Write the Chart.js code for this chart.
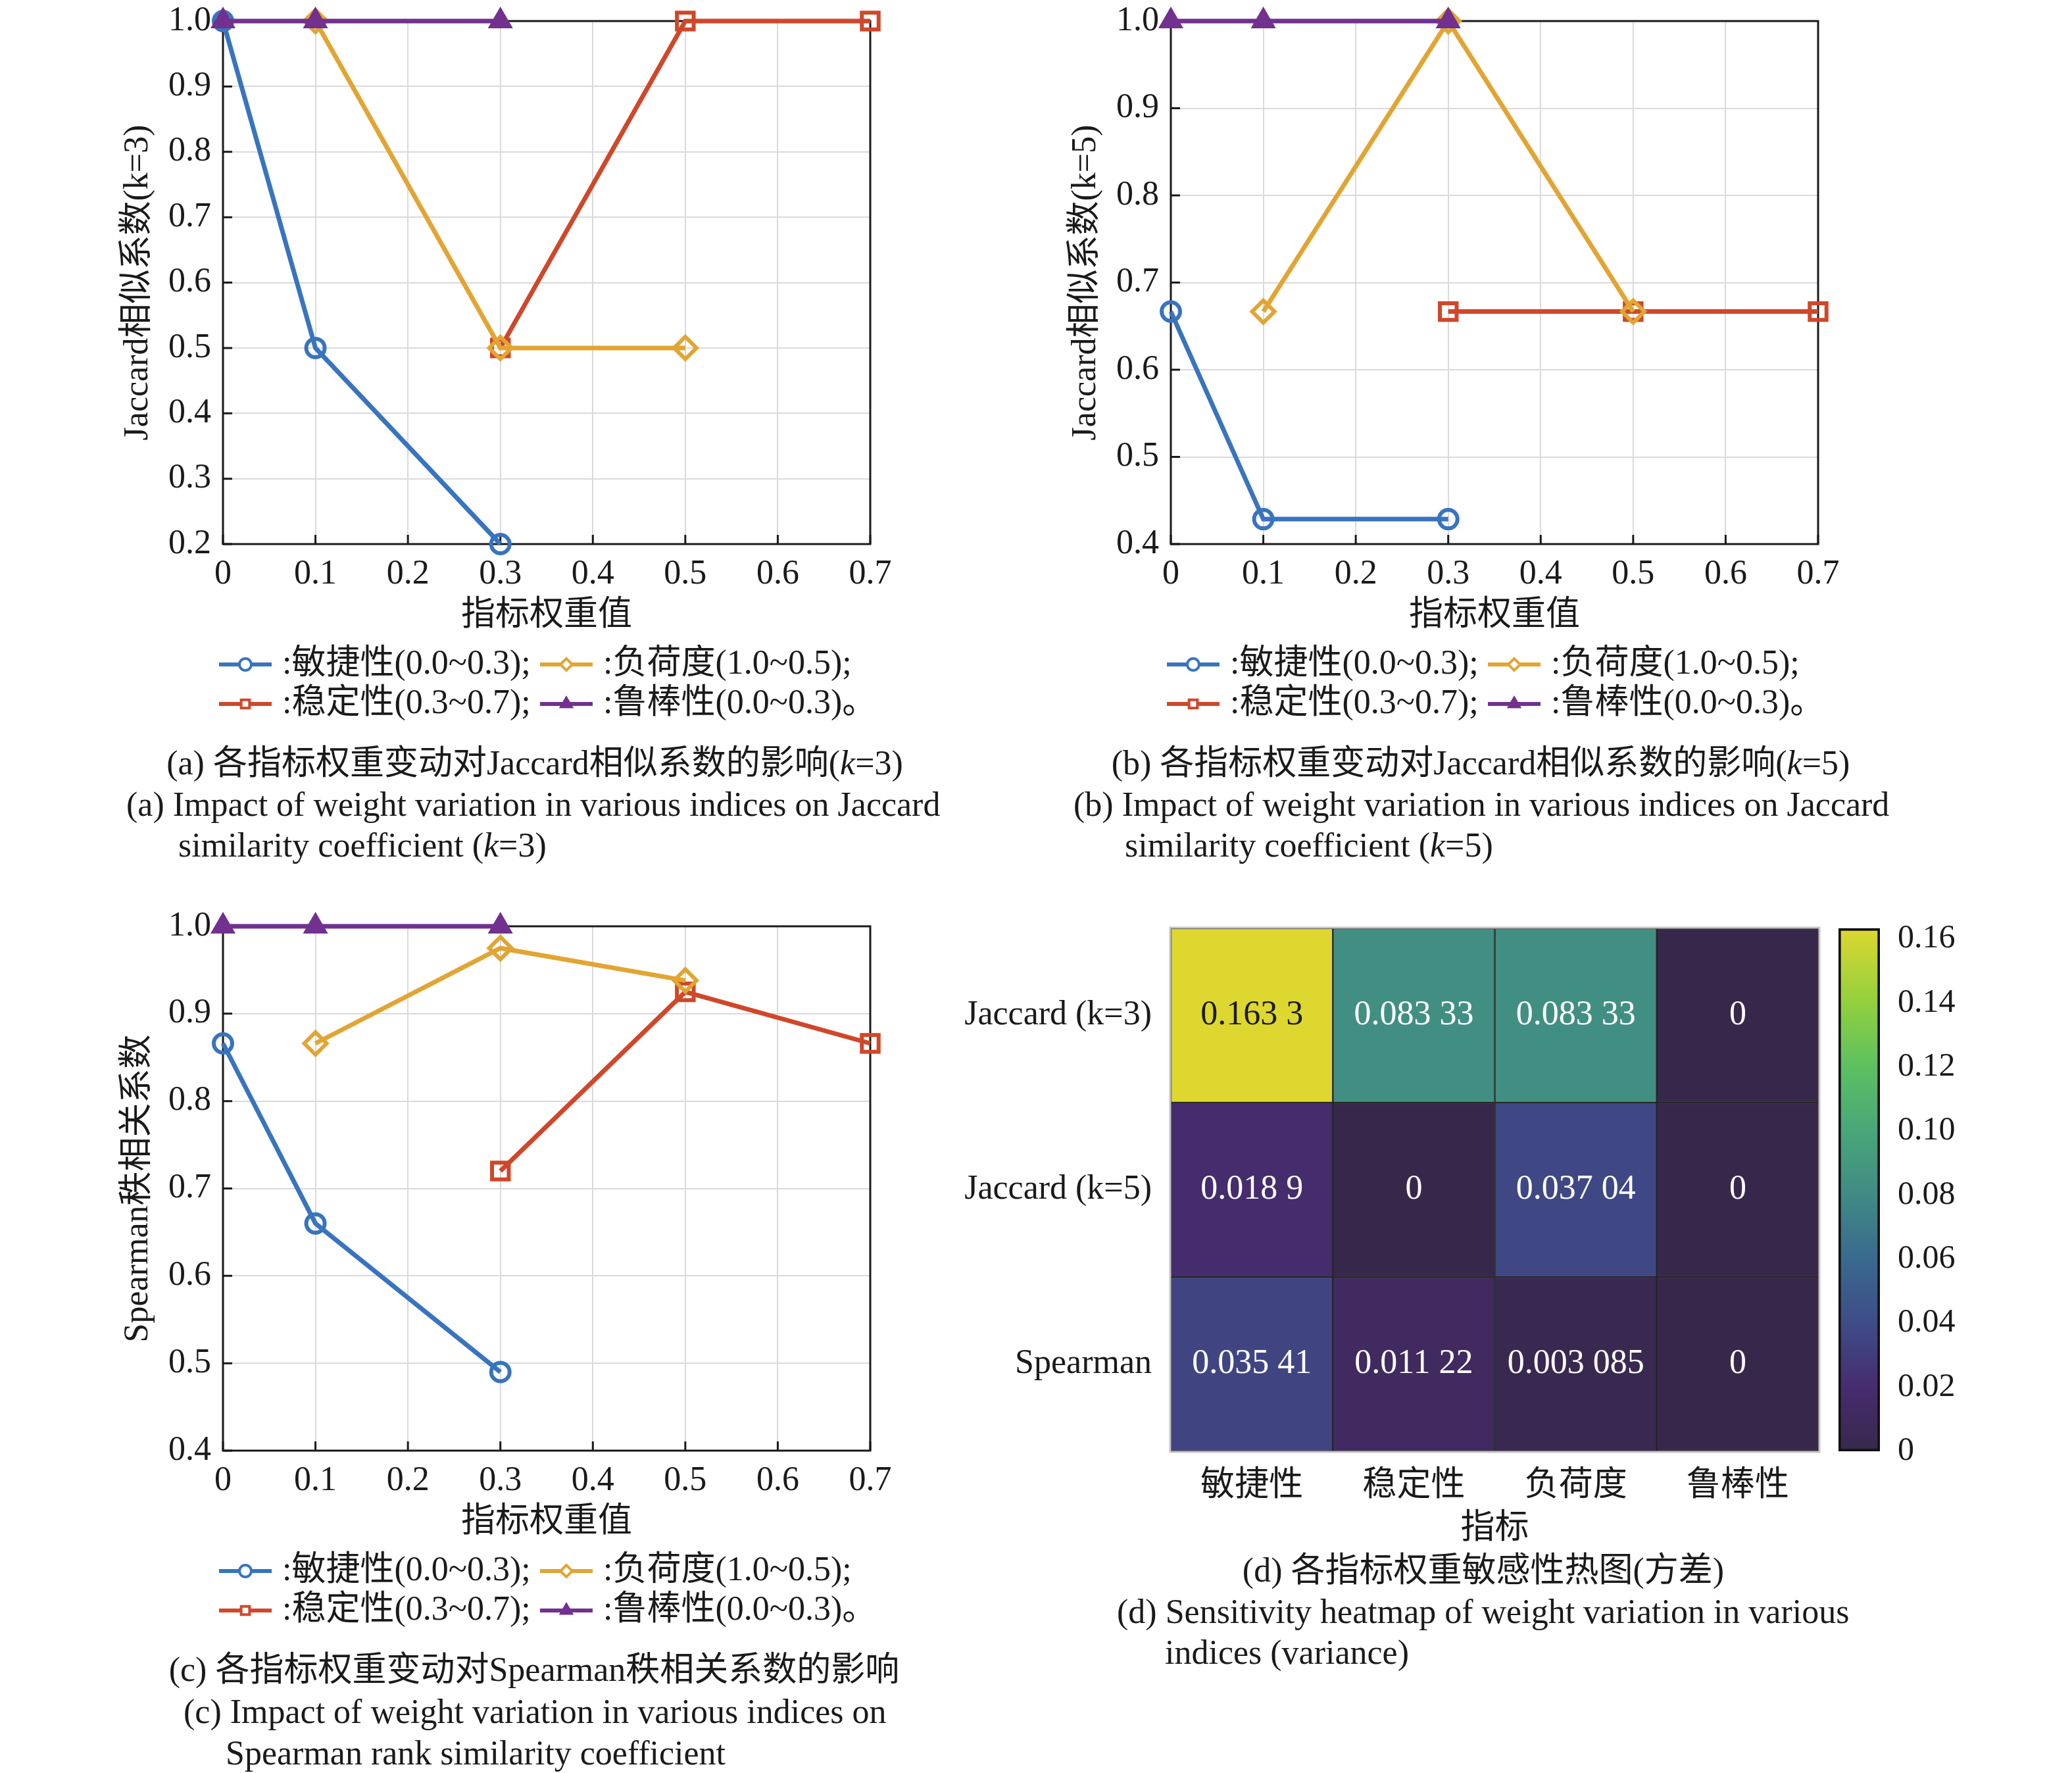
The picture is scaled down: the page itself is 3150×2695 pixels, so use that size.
<!DOCTYPE html>
<html lang="zh">
<head>
<meta charset="utf-8">
<script src="https://cdn.jsdelivr.net/npm/chart.js@4.4.1/dist/chart.umd.min.js"></script>
<style>
  body { margin: 0; width: 3150px; height: 2695px; background: #fff; position: relative; overflow: hidden;
         font-family: 'Liberation Serif', 'Noto Sans CJK SC', serif; color: #1a1a1a; }
  .caixa { position: absolute; }
  .leg { position: absolute; font-size: 52px; line-height: 62px; white-space: nowrap; }
  .centro { text-align: center; }
</style>
</head>
<body>

<div class="caixa" style="left:150px;top:0;width:1300px;height:1110px"><canvas id="grafA"></canvas></div>
<div class="caixa" style="left:1591px;top:0;width:1300px;height:1110px"><canvas id="grafB"></canvas></div>
<div class="caixa" style="left:150px;top:1376px;width:1300px;height:1112px"><canvas id="grafC"></canvas></div>
<div class="caixa" style="left:1467px;top:1380px;width:1320px;height:990px"><canvas id="grafD"></canvas></div>
<div class="caixa" style="left:2795px;top:1380px;width:200px;height:870px"><canvas id="barraCor"></canvas></div>

<div class="leg centro" style="left:213px;width:1200px;top:1129px">(a) 各指标权重变动对Jaccard相似系数的影响(<i>k</i>=3)</div>
<div class="leg" style="left:192px;top:1192px">(a) Impact of weight variation in various indices on Jaccard</div>
<div class="leg" style="left:271px;top:1254px">similarity coefficient (<i>k</i>=3)</div>

<div class="leg centro" style="left:1651px;width:1200px;top:1129px">(b) 各指标权重变动对Jaccard相似系数的影响(<i>k</i>=5)</div>
<div class="leg" style="left:1632px;top:1192px">(b) Impact of weight variation in various indices on Jaccard</div>
<div class="leg" style="left:1710px;top:1254px">similarity coefficient (<i>k</i>=5)</div>

<div class="leg centro" style="left:212px;width:1200px;top:2507px">(c) 各指标权重变动对Spearman秩相关系数的影响</div>
<div class="leg" style="left:279px;top:2571px">(c) Impact of weight variation in various indices on</div>
<div class="leg" style="left:343px;top:2634px">Spearman rank similarity coefficient</div>

<div class="leg centro" style="left:1655px;width:1200px;top:2356px">(d) 各指标权重敏感性热图(方差)</div>
<div class="leg" style="left:1698px;top:2419px">(d) Sensitivity heatmap of weight variation in various</div>
<div class="leg" style="left:1771px;top:2481px">indices (variance)</div>

<script>
// pesos testados de cada indicador (eixo x)
const xAgil = [0, 0.1, 0.3]      // 敏捷性
const xCarga = [0.1, 0.3, 0.5]   // 负荷度
const xEstab = [0.3, 0.5, 0.7]   // 稳定性
const xRobust = [0, 0.1, 0.3]    // 鲁棒性

// (a) Jaccard k=3
const jac3Agil = [1.0, 0.5, 0.2]
const jac3Carga = [1.0, 0.5, 0.5]
const jac3Estab = [0.5, 1.0, 1.0]
const jac3Robust = [1.0, 1.0, 1.0]

// (b) Jaccard k=5
const jac5Agil = [0.6667, 0.4286, 0.4286]
const jac5Carga = [0.6667, 1.0, 0.6667]
const jac5Estab = [0.6667, 0.6667, 0.6667]
const jac5Robust = [1.0, 1.0, 1.0]

// (c) Spearman
const speAgil = [0.866, 0.66, 0.49]
const speCarga = [0.866, 0.975, 0.938]
const speEstab = [0.72, 0.925, 0.866]
const speRobust = [1.0, 1.0, 1.0]

const legendas = [':敏捷性(0.0~0.3);', ':负荷度(1.0~0.5);', ':稳定性(0.3~0.7);', ':鲁棒性(0.0~0.3)。']

// (d) heatmap de variancias
const indicadores = ['敏捷性', '稳定性', '负荷度', '鲁棒性']
const metricas = ['Jaccard (k=3)', 'Jaccard (k=5)', 'Spearman']
const varJac3 = [0.1633, 0.08333, 0.08333, 0]
const varJac5 = [0.0189, 0, 0.03704, 0]
const varSpe = [0.03541, 0.01122, 0.003085, 0]
const ticksBarra = [0, 0.02, 0.04, 0.06, 0.08, 0.10, 0.12, 0.14, 0.16]

const variancias = [varJac3, varJac5, varSpe]
const maxVar = Math.max(...varJac3, ...varJac5, ...varSpe)

const fonte = "'Liberation Serif', 'Noto Sans CJK SC', serif"
Chart.defaults.font.family = fonte
Chart.defaults.font.size = 52
Chart.defaults.color = '#1a1a1a'

const cores = ['#3874bf', '#e2a533', '#d0472a', '#72308f']
const estilos = ['circle', 'rectRot', 'rect', 'triangle']
const raios = [14, 17, 18, 19]
const ordem = [3, 1, 2, 0]   // roxo por cima, azul por baixo

// sem folga extra dos rotulos: a area do grafico fica onde o padding manda
function semFolga(s) {
    s.paddingTop = 0
    s.paddingBottom = 0
    s.paddingLeft = 0
    s.paddingRight = 0
}

// caixa preta e marcas para dentro, como no matlab
const moldura = {
    id: 'moldura',
    beforeDatasetsDraw(chart) {
        const { ctx, chartArea: a, scales } = chart
        ctx.save()
        ctx.strokeStyle = '#1a1a1a'
        ctx.lineWidth = 3
        ctx.strokeRect(a.left, a.top, a.right - a.left, a.bottom - a.top)
        ctx.beginPath()
        scales.x.ticks.forEach(t => {
            const px = scales.x.getPixelForValue(t.value)
            ctx.moveTo(px, a.bottom)
            ctx.lineTo(px, a.bottom - 14)
        })
        scales.y.ticks.forEach(t => {
            const py = scales.y.getPixelForValue(t.value)
            ctx.moveTo(a.left, py)
            ctx.lineTo(a.left + 14, py)
        })
        ctx.stroke()
        ctx.restore()
    }
}

// legenda em duas colunas (linha + marcador)
const legendaMatlab = {
    id: 'legendaMatlab',
    afterDraw(chart) {
        const { ctx, chartArea: a } = chart
        ctx.save()
        ctx.font = '52px ' + fonte
        ctx.textBaseline = 'middle'
        ctx.textAlign = 'left'
        chart.data.datasets.forEach((ds, i) => {
            const x0 = a.left + [-6, 482][i % 2]
            const y = a.bottom + [183, 243][Math.floor(i / 2)]
            ctx.strokeStyle = ds.borderColor
            ctx.lineWidth = 6
            ctx.beginPath()
            ctx.moveTo(x0, y)
            ctx.lineTo(x0 + 80, y)
            ctx.stroke()
            ctx.fillStyle = ds.pointStyle === 'triangle' ? ds.borderColor : '#ffffff'
            ctx.lineWidth = 4
            Chart.helpers.drawPoint(ctx, { pointStyle: ds.pointStyle, radius: 9, borderWidth: 4, rotation: 0 }, x0 + 40, y)
            ctx.fillStyle = '#1a1a1a'
            ctx.fillText(ds.label, x0 + 96, y)
        })
        ctx.restore()
    }
}

function criarGrafico(id, yTitulo, yMin, xs, ys) {
    return new Chart(document.getElementById(id), {
        type: 'line',
        data: {
            datasets: ys.map((serie, i) => ({
                label: legendas[i],
                data: serie.map((v, j) => ({ x: xs[i][j], y: v })),
                borderColor: cores[i],
                borderWidth: 7,
                pointStyle: estilos[i],
                pointRadius: raios[i],
                pointBorderWidth: i === 3 ? 3 : 6,
                pointBackgroundColor: i === 3 ? cores[i] : 'rgba(255,255,255,0)',
                pointBorderColor: cores[i],
                order: ordem[i],
                clip: false,
                tension: 0
            }))
        },
        options: {
            responsive: true,
            maintainAspectRatio: false,
            animation: false,
            layout: { padding: { left: 0, top: 32, right: 127, bottom: 142 } },
            plugins: { legend: { display: false }, tooltip: { enabled: false } },
            scales: {
                x: {
                    type: 'linear', min: 0, max: 0.7,
                    ticks: { stepSize: 0.1, padding: 15, callback: v => v === 0 ? '0' : v.toFixed(1) },
                    grid: { color: '#dadada', lineWidth: 2, drawTicks: false },
                    border: { display: false },
                    title: { display: true, text: '指标权重值', padding: { top: 0, bottom: 0 } },
                    afterFit: s => { s.height = 141; semFolga(s) }
                },
                y: {
                    type: 'linear', min: yMin, max: 1,
                    ticks: { stepSize: 0.1, padding: 18, callback: v => v.toFixed(1) },
                    grid: { color: '#dadada', lineWidth: 2, drawTicks: false },
                    border: { display: false },
                    title: { display: true, text: yTitulo, padding: { top: 29, bottom: 0 } },
                    afterFit: s => { s.width = 189; semFolga(s) }
                }
            }
        },
        plugins: [moldura, legendaMatlab]
    })
}

const xsTodos = [xAgil, xCarga, xEstab, xRobust]
criarGrafico('grafA', 'Jaccard相似系数(k=3)', 0.2, xsTodos, [jac3Agil, jac3Carga, jac3Estab, jac3Robust])
criarGrafico('grafB', 'Jaccard相似系数(k=5)', 0.4, xsTodos, [jac5Agil, jac5Carga, jac5Estab, jac5Robust])
criarGrafico('grafC', 'Spearman秩相关系数', 0.4, xsTodos, [speAgil, speCarga, speEstab, speRobust])

const paradas = [
    [0, [55, 40, 75]], [0.12, [70, 44, 110]], [0.245, [62, 76, 136]], [0.37, [57, 106, 142]],
    [0.49, [64, 138, 132]], [0.61, [72, 166, 122]], [0.735, [92, 192, 98]], [0.857, [145, 208, 62]],
    [1, [222, 215, 48]]
]
function rgb(c) { return `rgb(${c[0]}, ${c[1]}, ${c[2]})` }
function corMapa(t) {
    for (let k = 1; k < paradas.length; k++) {
        if (t <= paradas[k][0]) {
            const [t0, c0] = paradas[k - 1]
            const [t1, c1] = paradas[k]
            const f = (t - t0) / (t1 - t0)
            return rgb(c0.map((c, n) => Math.round(c + (c1[n] - c) * f)))
        }
    }
    return rgb(paradas[paradas.length - 1][1])
}

function formatar(v) {
    if (v === 0) return '0'
    return String(v).replace(/^(0\.\d{3})(\d+)$/, '$1 $2')
}

const textoCelulas = {
    id: 'textoCelulas',
    afterDatasetsDraw(chart) {
        const { ctx, chartArea: a } = chart
        ctx.save()
        ctx.strokeStyle = '#c6c6c6'
        ctx.lineWidth = 3
        ctx.strokeRect(a.left - 1, a.top - 1, a.right - a.left + 2, a.bottom - a.top + 2)
        ctx.font = '52px ' + fonte
        ctx.textAlign = 'center'
        ctx.textBaseline = 'middle'
        chart.data.datasets.forEach((ds, i) => {
            chart.getDatasetMeta(i).data.forEach((bar, j) => {
                const v = variancias[i][j]
                ctx.fillStyle = v / maxVar > 0.7 ? '#1a1a1a' : '#ffffff'
                ctx.fillText(formatar(v), bar.x, (bar.y + bar.base) / 2)
            })
        })
        ctx.restore()
    }
}

new Chart(document.getElementById('grafD'), {
    type: 'bar',
    data: {
        labels: indicadores,
        datasets: metricas.map((m, i) => ({
            label: m,
            data: indicadores.map(() => [i, i + 1]),
            backgroundColor: variancias[i].map(v => corMapa(v / maxVar)),
            borderColor: '#262626',
            borderWidth: 1.5,
            borderSkipped: false,
            grouped: false,
            barPercentage: 1,
            categoryPercentage: 1
        }))
    },
    options: {
        responsive: true,
        maintainAspectRatio: false,
        animation: false,
        layout: { padding: { left: 0, top: 31, right: 22, bottom: 0 } },
        plugins: { legend: { display: false }, tooltip: { enabled: false } },
        scales: {
            x: {
                grid: { display: false },
                border: { display: false },
                ticks: { padding: 14 },
                title: { display: true, text: '指标', padding: { top: 0, bottom: 14 } },
                afterFit: s => { s.height = 164; semFolga(s) }
            },
            y: {
                min: 0, max: 3, reverse: true,
                grid: { display: false },
                border: { display: false },
                afterBuildTicks: s => { s.ticks = metricas.map((m, i) => ({ value: i + 0.5 })) },
                ticks: { padding: 21, callback: v => metricas[Math.floor(v)] },
                afterFit: s => { s.width = 313; semFolga(s) }
            }
        }
    },
    plugins: [textoCelulas]
})

// barra de cores
new Chart(document.getElementById('barraCor'), {
    type: 'bar',
    data: {
        labels: [''],
        datasets: [{
            data: [[0, maxVar]],
            backgroundColor: c => {
                const a = c.chart.chartArea
                if (!a) return '#000'
                const g = c.chart.ctx.createLinearGradient(0, a.bottom, 0, a.top)
                paradas.forEach(p => g.addColorStop(p[0], rgb(p[1])))
                return g
            },
            borderColor: '#111111',
            borderWidth: 4,
            borderSkipped: false,
            barPercentage: 1,
            categoryPercentage: 1
        }]
    },
    options: {
        responsive: true,
        maintainAspectRatio: false,
        animation: false,
        layout: { padding: { left: 0, top: 31, right: 0, bottom: 44 } },
        plugins: { legend: { display: false }, tooltip: { enabled: false } },
        scales: {
            x: { display: false },
            y: {
                position: 'right', min: 0, max: maxVar,
                grid: { display: false },
                border: { display: false },
                afterBuildTicks: s => { s.ticks = ticksBarra.map(v => ({ value: v })) },
                ticks: { padding: 19, font: { size: 50 }, callback: v => v === 0 ? '0' : v.toFixed(2) },
                afterFit: s => { s.width = 137; semFolga(s) }
            }
        }
    }
})
</script>
</body>
</html>
